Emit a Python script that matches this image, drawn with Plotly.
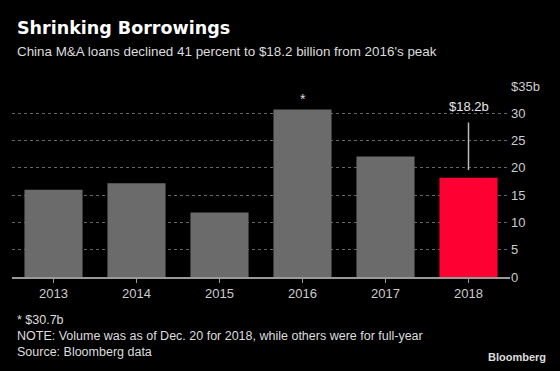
import plotly.graph_objects as go

years = ["2013", "2014", "2015", "2016", "2017", "2018"]
loans = [16.0, 17.2, 11.8, 30.7, 22.1, 18.2]
colors = ["#6b6b6b"] * 5 + ["#ff0033"]
y_ticks = [0, 5, 10, 15, 20, 25, 30, 35]
y_tick_text = ["0", "5", "10", "15", "20", "25", "30", "$35b"]
label_2018 = "$18.2b"
peak_note = "* $30.7b"

FONT = "Liberation Sans"

fig = go.Figure()
fig.add_trace(go.Bar(
    x=years, y=loans, marker=dict(color=colors, line=dict(width=0)),
    width=0.7, hoverinfo="x+y",
))

# leader line for 2018 label
fig.add_trace(go.Scatter(
    x=[years[5], years[5]], y=[19.6, 28.3], mode="lines",
    line=dict(color="#bbbbbb", width=1.5), hoverinfo="skip", showlegend=False,
))

fig.add_annotation(x=5, y=31.3, text=label_2018, showarrow=False,
                   font=dict(family=FONT, size=13, color="#e6e6e6"))
fig.add_annotation(x=3, y=32.6, text="*", showarrow=False,
                   font=dict(family=FONT, size=14, color="#dddddd"))

fig.update_layout(
    width=560, height=371,
    paper_bgcolor="black", plot_bgcolor="black",
    margin=dict(l=12, r=50, t=86, b=94),
    showlegend=False,
    bargap=0.3,
    font=dict(family=FONT, color="#cccccc"),
    xaxis=dict(
        type="category", range=[-0.5, 5.5], automargin=False,
        showgrid=False, showline=True, linecolor="#999999", linewidth=1.5,
        ticks="outside", ticklen=4, tickcolor="#999999",
        tickfont=dict(size=13, color="#cccccc"),
    ),
    yaxis=dict(
        side="right", range=[0, 35], tickvals=y_ticks, ticktext=y_tick_text,
        showgrid=True, gridcolor="#666666", griddash="dot", gridwidth=1,
        zeroline=False, tickfont=dict(size=13, color="#cccccc"), ticks="",
        automargin=False,
    ),
)

fig.add_annotation(xref="paper", yref="paper", x=0, y=1, xshift=3, yshift=58,
                   xanchor="left", yanchor="middle", showarrow=False,
                   text="<b>Shrinking Borrowings</b>",
                   font=dict(family="DejaVu Sans", size=17.5, color="white"))
fig.add_annotation(xref="paper", yref="paper", x=0, y=1, xshift=3, yshift=35,
                   xanchor="left", yanchor="middle", showarrow=False,
                   text="China M&A loans declined 41 percent to $18.2 billion from 2016's peak",
                   font=dict(family=FONT, size=13.4, color="#dddddd"))

notes = [peak_note,
         "NOTE: Volume was as of Dec. 20 for 2018, while others were for full-year",
         "Source: Bloomberg data"]
for i, t in enumerate(notes):
    fig.add_annotation(xref="paper", yref="paper", x=0, y=0, xshift=3, yshift=-43 - 16 * i,
                       xanchor="left", yanchor="middle", showarrow=False, text=t,
                       font=dict(family=FONT, size=12.5, color="#dddddd"))
fig.add_annotation(xref="paper", yref="paper", x=1, y=0, xshift=38, yshift=-80,
                   xanchor="right", yanchor="middle", showarrow=False,
                   text="<b>Bloomberg</b>",
                   font=dict(family=FONT, size=11, color="#dddddd"))

fig.write_html(
    "out.html",
    config={"displayModeBar": False},
    post_script="document.body.style.margin='0';document.body.style.background='black';",
)
